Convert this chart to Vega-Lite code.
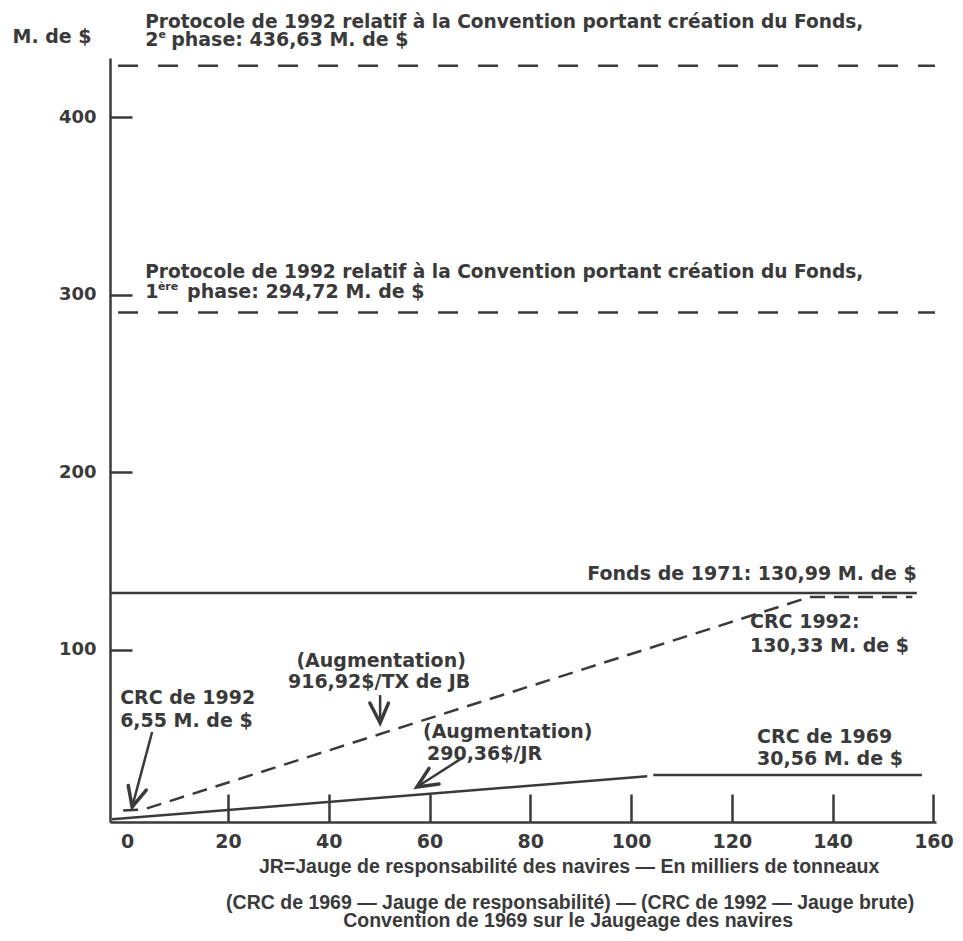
{
  "$schema": "https://vega.github.io/schema/vega-lite/v6.json",
  "width": 826,
  "height": 764,
  "autosize": {"type": "none"},
  "padding": {"left": 110, "top": 58, "right": 27, "bottom": 119},
  "background": "#ffffff",
  "view": {"stroke": null},
  "config": {"font": "DejaVu Sans"},
  "datasets": {
    "lines": [
      {"s": "p2", "i": 0, "x": -1.8, "y": 429},
      {"s": "p2", "i": 1, "x": 160.3, "y": 429},
      {"s": "p1", "i": 0, "x": -1.8, "y": 290},
      {"s": "p1", "i": 1, "x": 160.3, "y": 290},
      {"s": "crc92", "i": 0, "x": -0.8, "y": 9.5},
      {"s": "crc92", "i": 1, "x": 3.2, "y": 10},
      {"s": "crc92", "i": 2, "x": 135.5, "y": 129.8},
      {"s": "crc92", "i": 3, "x": 155.8, "y": 129.8},
      {"s": "fonds", "i": 0, "x": -3.4, "y": 132},
      {"s": "fonds", "i": 1, "x": 156.7, "y": 132},
      {"s": "crc69a", "i": 0, "x": -3.0, "y": 4.5},
      {"s": "crc69a", "i": 1, "x": 103.2, "y": 28.8},
      {"s": "crc69b", "i": 0, "x": 104.4, "y": 29.5},
      {"s": "crc69b", "i": 1, "x": 157.7, "y": 29.5},
      {"s": "a1shaft", "i": 0, "x": 4.96, "y": 53.7},
      {"s": "a1shaft", "i": 1, "x": 0.99, "y": 11.45},
      {"s": "a1head", "i": 0, "x": 0.22, "y": 23.6},
      {"s": "a1head", "i": 1, "x": 0.99, "y": 11.45},
      {"s": "a1head", "i": 2, "x": 3.79, "y": 21.0},
      {"s": "a2shaft", "i": 0, "x": 50.2, "y": 74.5},
      {"s": "a2shaft", "i": 1, "x": 50.2, "y": 58.8},
      {"s": "a2head", "i": 0, "x": 48.16, "y": 70.0},
      {"s": "a2head", "i": 1, "x": 50.2, "y": 58.8},
      {"s": "a2head", "i": 2, "x": 51.85, "y": 70.0},
      {"s": "a3shaft", "i": 0, "x": 66.5, "y": 39.1},
      {"s": "a3shaft", "i": 1, "x": 57.5, "y": 22.7},
      {"s": "a3head", "i": 0, "x": 59.9, "y": 33.2},
      {"s": "a3head", "i": 1, "x": 57.5, "y": 22.7},
      {"s": "a3head", "i": 2, "x": 61.9, "y": 24.4}
    ],
    "headText": [
      {"t": "Protocole de 1992 relatif à la Convention  portant création du Fonds,", "x": 3.57, "y": 450.2},
      {"t": "Protocole de 1992 relatif à la Convention portant création du Fonds,", "x": 3.57, "y": 309.6}
    ],
    "leftText": [
      {"t": "2", "x": 3.57, "y": 440.0},
      {"t": "phase: 436,63 M. de $", "x": 8.73, "y": 440.0},
      {"t": "1", "x": 3.57, "y": 298.0},
      {"t": "phase: 294,72 M. de $", "x": 11.9, "y": 298.0},
      {"t": "CRC 1992:", "x": 123.6, "y": 112.3},
      {"t": "130,33 M. de $", "x": 123.6, "y": 98.8},
      {"t": "CRC de 1992", "x": -1.39, "y": 69.5},
      {"t": "6,55 M. de $", "x": -1.39, "y": 56.5},
      {"t": "(Augmentation)", "x": 58.7, "y": 50.3},
      {"t": "290,36$/JR", "x": 59.5, "y": 37.9},
      {"t": "CRC de 1969", "x": 125.0, "y": 47.5},
      {"t": "30,56 M. de $", "x": 125.0, "y": 35.1}
    ],
    "supText": [
      {"t": "e", "x": 6.2, "y": 444.8},
      {"t": "ère", "x": 6.1, "y": 302.7}
    ],
    "rightText": [
      {"t": "Fonds de 1971: 130,99 M. de $", "x": 156.7, "y": 139.3}
    ],
    "centerText": [
      {"t": "(Augmentation)", "x": 50.4, "y": 90.3},
      {"t": "916,92$/TX de JB", "x": 50.0, "y": 78.5}
    ],
    "bottomText": [
      {"t": "JR=Jauge de responsabilité des navires — En milliers de tonneaux", "x": 87.7, "y": -25.7},
      {"t": "(CRC de 1969 — Jauge de responsabilité) —  (CRC de 1992 — Jauge brute)", "x": 87.9, "y": -46.0},
      {"t": "Convention de 1969 sur le Jaugeage des navires", "x": 87.5, "y": -56.2}
    ]
  },
  "encoding": {
    "x": {
      "field": "x", "type": "quantitative",
      "scale": {"domain": [-3.4, 160.5], "nice": false, "zero": false},
      "axis": {
        "values": [0, 20, 40, 60, 80, 100, 120, 140, 160],
        "tickSize": -28, "tickWidth": 2.5,
        "tickColor": {"condition": {"test": "datum.value === 0", "value": "transparent"}, "value": "#3a3a3a"},
        "domainWidth": 2.5, "domainColor": "#3a3a3a",
        "labelFont": "DejaVu Sans", "labelFontSize": 19, "labelFontWeight": "bold", "labelColor": "#3a3a3a",
        "labelPadding": 38, "labelFlush": false, "labelOverlap": false,
        "grid": false, "title": null
      }
    },
    "y": {
      "field": "y", "type": "quantitative",
      "scale": {"domain": [3, 433.4], "nice": false, "zero": false},
      "axis": {
        "values": [100, 200, 300, 400],
        "tickSize": -22, "tickWidth": 2.5, "tickColor": "#3a3a3a",
        "domainWidth": 2.5, "domainColor": "#3a3a3a",
        "labelFont": "DejaVu Sans", "labelFontSize": 18, "labelFontWeight": "bold", "labelColor": "#3a3a3a",
        "labelPadding": 36, "labelFlush": false, "labelOverlap": false,
        "grid": false,
        "title": "M. de $", "titleAngle": 0, "titleAlign": "left", "titleBaseline": "alphabetic",
        "titleX": -98, "titleY": -16, "titleFont": "DejaVu Sans", "titleFontSize": 19,
        "titleFontWeight": "bold", "titleColor": "#3a3a3a"
      }
    }
  },
  "layer": [
    {
      "data": {"name": "lines"},
      "transform": [{"filter": {"field": "s", "oneOf": ["p1", "p2"]}}],
      "mark": {"type": "line", "color": "#3a3a3a", "strokeWidth": 2.5, "strokeDash": [20, 20]},
      "encoding": {"detail": {"field": "s"}, "order": {"field": "i"}}
    },
    {
      "data": {"name": "lines"},
      "transform": [{"filter": {"field": "s", "equal": "crc92"}}],
      "mark": {"type": "line", "color": "#3a3a3a", "strokeWidth": 2.5, "strokeDash": [15, 9]},
      "encoding": {"detail": {"field": "s"}, "order": {"field": "i"}}
    },
    {
      "data": {"name": "lines"},
      "transform": [{"filter": {"field": "s", "oneOf": ["fonds", "crc69a", "crc69b", "a1shaft", "a2shaft", "a3shaft"]}}],
      "mark": {"type": "line", "color": "#3a3a3a", "strokeWidth": 2.5},
      "encoding": {"detail": {"field": "s"}, "order": {"field": "i"}}
    },
    {
      "data": {"name": "lines"},
      "transform": [{"filter": {"field": "s", "oneOf": ["a1head", "a2head", "a3head"]}}],
      "mark": {"type": "line", "color": "#3a3a3a", "strokeWidth": 3.5, "strokeJoin": "miter", "strokeCap": "round"},
      "encoding": {"detail": {"field": "s"}, "order": {"field": "i"}}
    },
    {
      "data": {"name": "headText"},
      "mark": {"type": "text", "font": "DejaVu Sans", "fontSize": 18.6, "fontWeight": "bold", "align": "left", "baseline": "alphabetic", "color": "#3a3a3a"},
      "encoding": {"text": {"field": "t"}}
    },
    {
      "data": {"name": "leftText"},
      "mark": {"type": "text", "font": "DejaVu Sans", "fontSize": 19, "fontWeight": "bold", "align": "left", "baseline": "alphabetic", "color": "#3a3a3a"},
      "encoding": {"text": {"field": "t"}}
    },
    {
      "data": {"name": "supText"},
      "mark": {"type": "text", "font": "DejaVu Sans", "fontSize": 11, "fontWeight": "bold", "align": "left", "baseline": "alphabetic", "color": "#3a3a3a"},
      "encoding": {"text": {"field": "t"}}
    },
    {
      "data": {"name": "rightText"},
      "mark": {"type": "text", "font": "DejaVu Sans", "fontSize": 19, "fontWeight": "bold", "align": "right", "baseline": "alphabetic", "color": "#3a3a3a"},
      "encoding": {"text": {"field": "t"}}
    },
    {
      "data": {"name": "centerText"},
      "mark": {"type": "text", "font": "DejaVu Sans", "fontSize": 19, "fontWeight": "bold", "align": "center", "baseline": "alphabetic", "color": "#3a3a3a"},
      "encoding": {"text": {"field": "t"}}
    },
    {
      "data": {"name": "bottomText"},
      "mark": {"type": "text", "font": "Liberation Sans", "fontSize": 19.5, "fontWeight": "bold", "align": "center", "baseline": "alphabetic", "color": "#3a3a3a"},
      "encoding": {"text": {"field": "t"}}
    }
  ]
}
